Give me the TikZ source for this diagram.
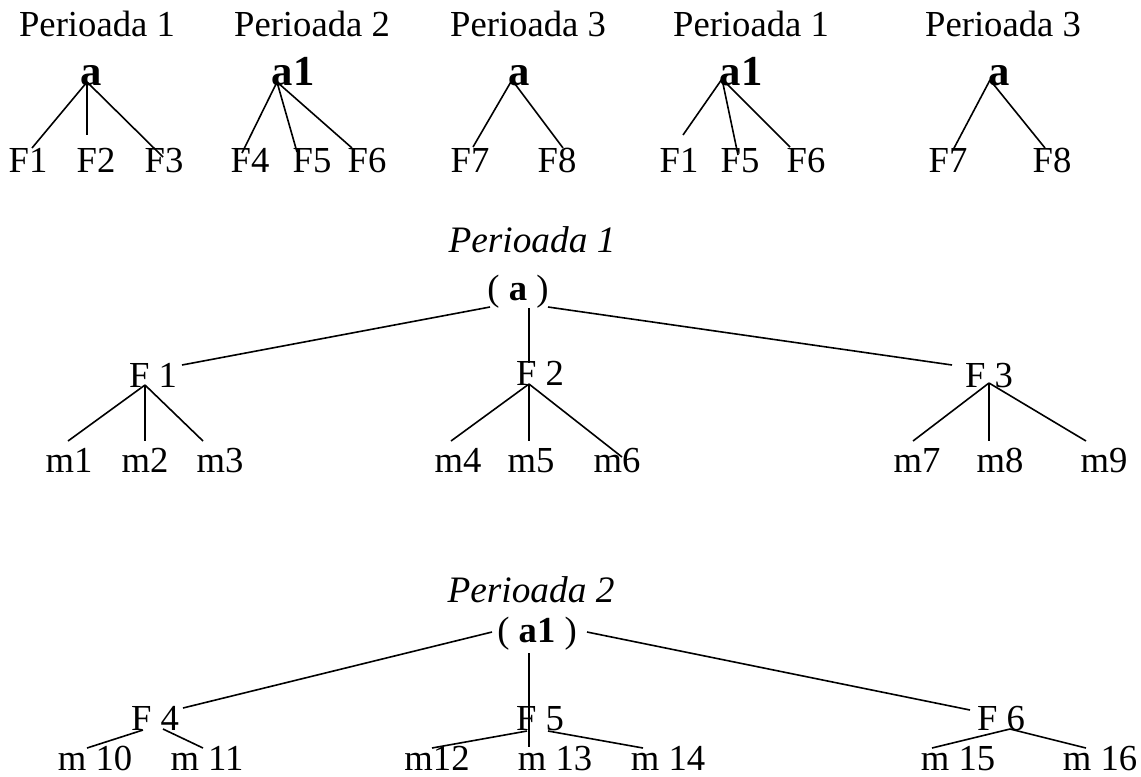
\documentclass[tikz,border=0pt]{standalone}
\usepackage{fontspec}
\setmainfont{Liberation Serif}

\begin{document}
\begin{tikzpicture}[x=0.75pt, y=-0.75pt, line width=1.2pt,
    lbl/.style={inner sep=0pt, anchor=base, font=\fontsize{27.5}{33}\selectfont},
    big/.style={inner sep=0pt, anchor=base, font=\fontsize{32}{38}\selectfont\bfseries},
    ttl/.style={inner sep=0pt, anchor=base, font=\fontsize{28}{34}\selectfont\itshape}]
    \useasboundingbox (0,0) rectangle (1141,776);

    % top row
    \node[lbl] (h1) at (97,36) {Perioada 1};
    \node[lbl] (h2) at (312,36) {Perioada 2};
    \node[lbl] (h3) at (528,36) {Perioada 3};
    \node[lbl] (h4) at (751,36) {Perioada 1};
    \node[lbl] (h5) at (1003,36) {Perioada 3};

    \node[big] (r1) at (91,85) {a};
    \node[big] (r2) at (293,85) {a1};
    \node[big] (r3) at (519,85) {a};
    \node[big] (r4) at (741,85) {a1};
    \node[big] (r5) at (999,85) {a};

    \node[lbl] (f11) at (28,172) {F1};
    \node[lbl] (f12) at (96,172) {F2};
    \node[lbl] (f13) at (164,172) {F3};
    \node[lbl] (f21) at (250,172) {F4};
    \node[lbl] (f22) at (312,172) {F5};
    \node[lbl] (f23) at (367,172) {F6};
    \node[lbl] (f31) at (470,172) {F7};
    \node[lbl] (f32) at (557,172) {F8};
    \node[lbl] (f41) at (679,172) {F1};
    \node[lbl] (f42) at (740,172) {F5};
    \node[lbl] (f43) at (806,172) {F6};
    \node[lbl] (f51) at (948,172) {F7};
    \node[lbl] (f52) at (1052,172) {F8};

    % line ends, top row
    \coordinate (t1) at (87,82);
    \coordinate (t1a) at (32,148);
    \coordinate (t1b) at (87,135);
    \coordinate (t1c) at (163,157);
    \coordinate (t2) at (277,82);
    \coordinate (t2a) at (242,153);
    \coordinate (t2b) at (297,152);
    \coordinate (t2c) at (352,148);
    \coordinate (t3) at (512,80);
    \coordinate (t3a) at (473,147);
    \coordinate (t3b) at (563,148);
    \coordinate (t4) at (722,79);
    \coordinate (t4a) at (683,135);
    \coordinate (t4b) at (738,155);
    \coordinate (t4c) at (790,147);
    \coordinate (t5) at (990,80);
    \coordinate (t5a) at (953,150);
    \coordinate (t5b) at (1045,148);

    \draw (t1) -- (t1a);
    \draw (t1) -- (t1b);
    \draw (t1) -- (t1c);
    \draw (t2) -- (t2a);
    \draw (t2) -- (t2b);
    \draw (t2) -- (t2c);
    \draw (t3) -- (t3a);
    \draw (t3) -- (t3b);
    \draw (t4) -- (t4a);
    \draw (t4) -- (t4b);
    \draw (t4) -- (t4c);
    \draw (t5) -- (t5a);
    \draw (t5) -- (t5b);

    % first period
    \node[ttl] (p1) at (532,252) {Perioada 1};
    \node[lbl] (ra) at (518,300) {( \textbf{a} )};
    \node[lbl] (g1) at (153,387) {F 1};
    \node[lbl] (g2) at (540,385) {F 2};
    \node[lbl] (g3) at (989,387) {F 3};

    \node[lbl] (m1) at (69,472) {m1};
    \node[lbl] (m2) at (145,472) {m2};
    \node[lbl] (m3) at (220,472) {m3};
    \node[lbl] (m4) at (458,472) {m4};
    \node[lbl] (m5) at (531,472) {m5};
    \node[lbl] (m6) at (617,472) {m6};
    \node[lbl] (m7) at (917,472) {m7};
    \node[lbl] (m8) at (1000,472) {m8};
    \node[lbl] (m9) at (1104,472) {m9};

    \coordinate (ua) at (490,307);
    \coordinate (ub) at (529,308);
    \coordinate (uc) at (548,307);
    \coordinate (ua1) at (182,365);
    \coordinate (ub1) at (529,363);
    \coordinate (uc1) at (952,365);
    \draw (ua) -- (ua1);
    \draw (ub) -- (ub1);
    \draw (uc) -- (uc1);

    \coordinate (v1) at (145,385);
    \coordinate (v1a) at (68,441);
    \coordinate (v1b) at (145,441);
    \coordinate (v1c) at (203,441);
    \coordinate (v2) at (529,384);
    \coordinate (v2a) at (451,441);
    \coordinate (v2b) at (529,441);
    \coordinate (v2c) at (622,457);
    \coordinate (v3) at (989,383);
    \coordinate (v3a) at (913,441);
    \coordinate (v3b) at (989,441);
    \coordinate (v3c) at (1086,441);
    \draw (v1) -- (v1a);
    \draw (v1) -- (v1b);
    \draw (v1) -- (v1c);
    \draw (v2) -- (v2a);
    \draw (v2) -- (v2b);
    \draw (v2) -- (v2c);
    \draw (v3) -- (v3a);
    \draw (v3) -- (v3b);
    \draw (v3) -- (v3c);

    % second period
    \node[ttl] (p2) at (531,602) {Perioada 2};
    \node[lbl] (ra1) at (537,642) {( \textbf{a1} )};
    \node[lbl] (g4) at (155,730) {F 4};
    \node[lbl] (g5) at (540,730) {F 5};
    \node[lbl] (g6) at (1001,730) {F 6};

    \node[lbl] (m10) at (95,770) {m 10};
    \node[lbl] (m11) at (207,770) {m 11};
    \node[lbl] (m12) at (437,770) {m12};
    \node[lbl] (m13) at (555,770) {m 13};
    \node[lbl] (m14) at (668,770) {m 14};
    \node[lbl] (m15) at (958,770) {m 15};
    \node[lbl] (m16) at (1100,770) {m 16};

    \coordinate (wa) at (492,632);
    \coordinate (wb) at (529,653);
    \coordinate (wc) at (587,632);
    \coordinate (wa1) at (183,708);
    \coordinate (wb1) at (529,747);
    \coordinate (wc1) at (970,710);
    \draw (wa) -- (wa1);
    \draw (wb) -- (wb1);
    \draw (wc) -- (wc1);

    \coordinate (x4a) at (143,730);
    \coordinate (x4b) at (163,729);
    \coordinate (y4a) at (87,748);
    \coordinate (y4b) at (203,748);
    \coordinate (x5a) at (527,731);
    \coordinate (x5b) at (548,731);
    \coordinate (y5a) at (432,748);
    \coordinate (y5b) at (643,748);
    \coordinate (x6) at (1010,729);
    \coordinate (y6a) at (932,748);
    \coordinate (y6b) at (1086,748);
    \draw (x4a) -- (y4a);
    \draw (x4b) -- (y4b);
    \draw (x5a) -- (y5a);
    \draw (x5b) -- (y5b);
    \draw (x6) -- (y6a);
    \draw (x6) -- (y6b);

\end{tikzpicture}
\end{document}
